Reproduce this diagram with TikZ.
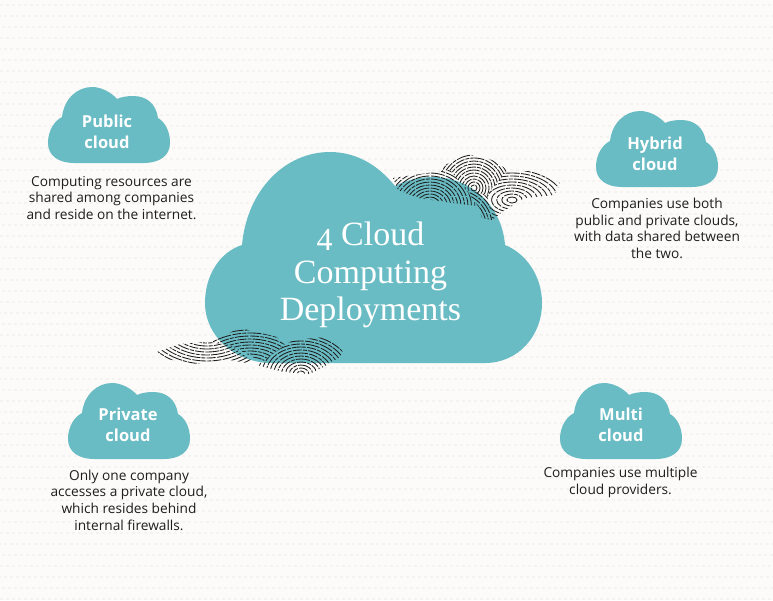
\documentclass[tikz,border=0pt]{standalone}
\usepackage{fontspec}
\setmainfont{Open Sans}
\newfontfamily\titlefont{Liberation Serif}
\definecolor{teal1}{HTML}{69BCC4}
\definecolor{paper}{HTML}{FCFBF9}
\definecolor{dots}{HTML}{F5F3F0}
\definecolor{ink}{HTML}{1E1E1E}
\tikzset{
  desc/.style={align=center,text=ink,font=\fontsize{13.7}{16.6}\selectfont,inner sep=0pt},
  cloudlabel/.style={align=center,text=white,font=\fontsize{16.5}{21}\selectfont\bfseries,inner sep=0pt},
  ridge/.style={draw=ink,line width=0.85pt,dash pattern=on 9pt off 1.2pt on 4pt off 1pt on 14pt off 1.4pt},
}
\newcommand\smallcloud[2]{%
  \fill[teal1,shift={(#1,#2)}] (-35,38) -- (35,38)
   .. controls (50,38) and (61,31) .. (61,18)
   .. controls (61,6) and (56,-3) .. (49,-7)
   .. controls (47,-21) and (38,-29) .. (24,-29)
   .. controls (18,-29) and (12,-28) .. (8,-26)
   .. controls (2,-33) and (-8,-38) .. (-17,-38)
   .. controls (-32,-38) and (-45,-26) .. (-47,-8)
   .. controls (-55,-4) and (-61,6) .. (-61,18)
   .. controls (-61,31) and (-50,38) .. (-35,38) -- cycle;}
% whorl: clip polygon, centre x, y, x stretch, y stretch, largest radius
\newcommand\whorl[6]{%
  \begin{scope}
  \clip #1;
  \foreach \k in {3,6,...,#6}{
    \draw[ridge] (#2,#3) ellipse [x radius={\k*#4},y radius={\k*#5}];
  }
  \end{scope}}
\begin{document}
\begin{tikzpicture}[x=1pt,y=-1pt]
\useasboundingbox (0,0) rectangle (773,600);
\fill[paper] (0,0) rectangle (773,600);
\foreach \r in {0,...,54}{
  \draw[dots,line width=1.8pt,dash pattern=on 3pt off 3pt,dash phase={\r*2}] (0,{5+\r*11}) -- (773,{5+\r*11});
}
% main cloud
\fill[teal1] (272,363) -- (485,363)
  .. controls (518,363) and (542,336) .. (542,303)
  .. controls (542,275) and (525,253) .. (505,245)
  .. controls (502,205) and (470,177) .. (433,177)
  .. controls (420,177) and (406,180) .. (395,186)
  .. controls (378,165) and (356,152) .. (330,152)
  .. controls (285,152) and (247,190) .. (242,245)
  .. controls (220,252) and (205,275) .. (205,303)
  .. controls (205,336) and (235,363) .. (272,363) -- cycle;
% fingerprints, upper right
\whorl{(393,178) -- (428,173) -- (450,170) -- (466,190) -- (478,206) -- (452,203) -- (418,198) -- (398,190) -- cycle}{430}{206}{1.15}{1}{48}
\whorl{(428,173) -- (445,165) -- (468,154) -- (492,160) -- (508,170) -- (495,185) -- (487,195) -- (466,190) -- (450,170) -- cycle}{474}{188}{1}{1}{36}
\whorl{(466,190) -- (487,195) -- (492,220) -- (482,218) -- (478,206) -- cycle}{456}{226}{1}{1}{48}
\whorl{(487,195) -- (505,172) -- (532,171) -- (560,183) -- (555,195) -- (525,198) -- (505,210) -- (492,220) -- cycle}{512}{200}{1.7}{1}{33}
% fingerprints, lower left
\whorl{(157,352) -- (180,344) -- (207,342) -- (230,345) -- (258,365) -- (230,360) -- (193,364) -- (167,359) -- cycle}{207}{322}{1.45}{1}{48}
\whorl{(207,342) -- (227,334) -- (240,328) -- (277,337) -- (285,345) -- (262,362) -- (230,345) -- cycle}{250}{372}{1.5}{1}{45}
\whorl{(262,362) -- (285,345) -- (293,340) -- (327,337) -- (345,345) -- (340,357) -- (327,365) -- (310,374) -- (283,372) -- (257,365) -- cycle}{301}{374}{1.3}{1}{39}
\node[align=center,text=white,inner sep=0pt,font=\titlefont\fontsize{34}{37.5}\selectfont] (title) at (370.5,275) {\raisebox{-0.14em}{\fontsize{32}{33}\selectfont 4} Cloud\\Computing\\Deployments};
\smallcloud{109}{125}
\smallcloud{657}{149}
\smallcloud{129}{421}
\smallcloud{621}{421}
\node[cloudlabel] (pub) at (107,131.5) {Public\\cloud};
\node[cloudlabel] (hyb) at (655,154) {Hybrid\\cloud};
\node[cloudlabel] (pri) at (128,425) {Private\\cloud};
\node[cloudlabel] (mul) at (621,425) {Multi\\cloud};
\node[desc] (pubd) at (111.5,198) {Computing resources are\\shared among companies\\and reside on the internet.};
\node[desc] (hybd) at (657,228.5) {Companies use both\\public and private clouds,\\with data shared between\\the two.};
\node[desc] (prid) at (129,500) {Only one company\\accesses a private cloud,\\which resides behind\\internal firewalls.};
\node[desc] (muld) at (620.5,482.5) {Companies use multiple\\cloud providers.};
\end{tikzpicture}
\end{document}
